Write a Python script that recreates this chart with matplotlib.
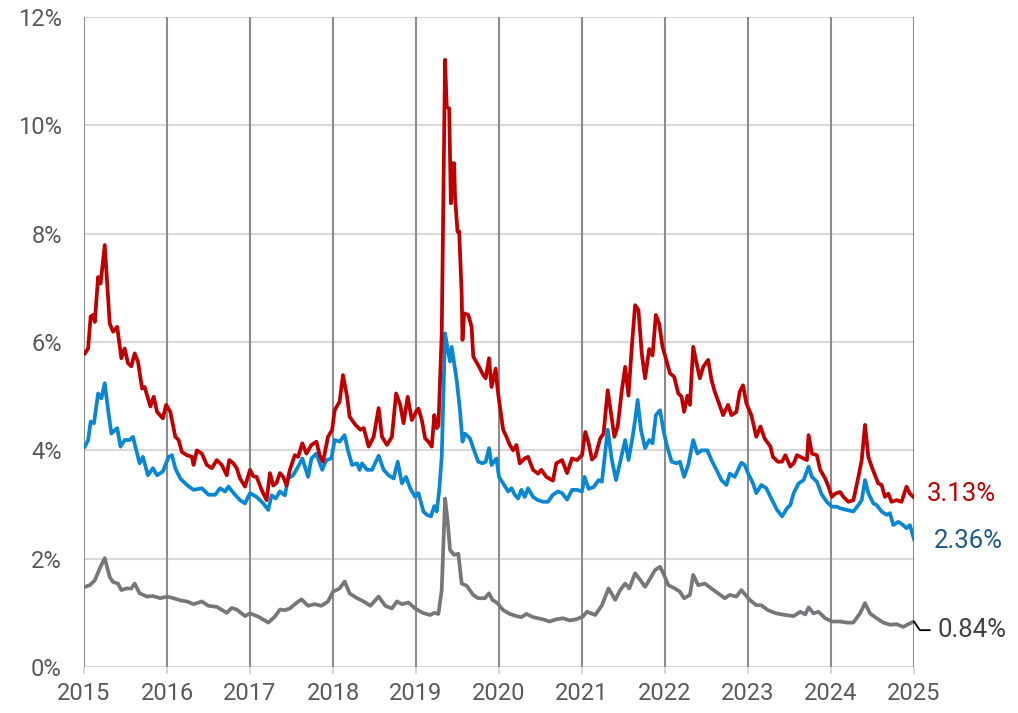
import matplotlib.pyplot as plt
import numpy as np

# readings (decimal year, percent)
red_years = [
    2015.01, 2015.05, 2015.08, 2015.11, 2015.13, 2015.17, 2015.20, 2015.25, 2015.31, 2015.35,
    2015.40, 2015.45, 2015.49, 2015.53, 2015.57, 2015.61, 2015.65, 2015.70, 2015.73, 2015.80,
    2015.84, 2015.88, 2015.95, 2015.99, 2016.04, 2016.10, 2016.14, 2016.18, 2016.24, 2016.30,
    2016.32, 2016.36, 2016.42, 2016.48, 2016.54, 2016.60, 2016.66, 2016.72, 2016.75, 2016.80,
    2016.84, 2016.88, 2016.94, 2017.00, 2017.04, 2017.08, 2017.14, 2017.20, 2017.24, 2017.28,
    2017.32, 2017.36, 2017.40, 2017.44, 2017.48, 2017.54, 2017.58, 2017.63, 2017.68, 2017.74,
    2017.80, 2017.84, 2017.88, 2017.94, 2017.99, 2018.02, 2018.08, 2018.12, 2018.17, 2018.20,
    2018.27, 2018.33, 2018.37, 2018.43, 2018.49, 2018.55, 2018.59, 2018.65, 2018.71, 2018.76,
    2018.81, 2018.85, 2018.90, 2018.95, 2019.01, 2019.03, 2019.07, 2019.11, 2019.15, 2019.19,
    2019.22, 2019.25, 2019.27, 2019.31, 2019.35, 2019.37, 2019.40, 2019.42, 2019.44, 2019.46,
    2019.47, 2019.50, 2019.52, 2019.55, 2019.56, 2019.58, 2019.63, 2019.67, 2019.69, 2019.75,
    2019.81, 2019.84, 2019.88, 2019.91, 2019.96, 2019.98, 2020.00, 2020.05, 2020.09, 2020.13,
    2020.17, 2020.21, 2020.25, 2020.31, 2020.35, 2020.41, 2020.47, 2020.51, 2020.57, 2020.65,
    2020.69, 2020.76, 2020.82, 2020.88, 2020.94, 2021.00, 2021.04, 2021.08, 2021.12, 2021.16,
    2021.22, 2021.26, 2021.31, 2021.35, 2021.39, 2021.43, 2021.48, 2021.52, 2021.56, 2021.60,
    2021.64, 2021.68, 2021.72, 2021.76, 2021.81, 2021.85, 2021.89, 2021.93, 2021.97, 2022.01,
    2022.06, 2022.11, 2022.16, 2022.20, 2022.23, 2022.27, 2022.30, 2022.34, 2022.38, 2022.42,
    2022.46, 2022.52, 2022.56, 2022.60, 2022.65, 2022.70, 2022.76, 2022.80, 2022.86, 2022.90,
    2022.94, 2022.98, 2023.04, 2023.10, 2023.15, 2023.20, 2023.27, 2023.30, 2023.36, 2023.41,
    2023.45, 2023.51, 2023.55, 2023.59, 2023.67, 2023.71, 2023.73, 2023.77, 2023.83, 2023.87,
    2023.93, 2023.97, 2024.01, 2024.05, 2024.11, 2024.15, 2024.21, 2024.27, 2024.33, 2024.37,
    2024.41, 2024.45, 2024.49, 2024.53, 2024.57, 2024.61, 2024.65, 2024.69, 2024.73, 2024.79,
    2024.85, 2024.91, 2024.95, 2025.00,
]
red_vals = [
    5.79, 5.88, 6.47, 6.50, 6.37, 7.20, 7.08, 7.79, 6.34, 6.19,
    6.28, 5.70, 5.88, 5.61, 5.55, 5.79, 5.64, 5.14, 5.17, 4.81,
    4.99, 4.71, 4.59, 4.84, 4.71, 4.25, 4.19, 3.97, 3.91, 3.88,
    3.73, 4.00, 3.94, 3.73, 3.67, 3.82, 3.73, 3.54, 3.82, 3.76,
    3.67, 3.48, 3.33, 3.64, 3.52, 3.51, 3.27, 3.08, 3.58, 3.35,
    3.40, 3.58, 3.51, 3.35, 3.64, 3.91, 3.88, 4.13, 3.94, 4.10,
    4.16, 3.91, 3.79, 4.25, 4.38, 4.74, 4.90, 5.39, 4.99, 4.62,
    4.47, 4.38, 4.41, 4.07, 4.25, 4.78, 4.25, 4.10, 4.25, 5.05,
    4.84, 4.50, 4.99, 4.56, 4.74, 4.77, 4.56, 4.22, 4.16, 4.07,
    4.65, 4.41, 4.45, 6.16, 11.21, 10.34, 10.31, 8.56, 9.30, 9.30,
    8.68, 8.04, 8.04, 6.90, 6.04, 6.53, 6.50, 6.28, 5.73, 5.57,
    5.39, 5.33, 5.70, 5.17, 5.51, 5.17, 4.93, 4.38, 4.25, 4.10,
    4.00, 4.10, 3.76, 3.85, 3.88, 3.64, 3.57, 3.64, 3.51, 3.44,
    3.76, 3.82, 3.58, 3.85, 3.82, 3.91, 4.34, 4.13, 3.83, 3.89,
    4.22, 4.31, 5.11, 4.68, 4.25, 4.44, 5.11, 5.54, 5.01, 5.91,
    6.68, 6.59, 5.79, 5.33, 5.87, 5.75, 6.50, 6.34, 5.91, 5.70,
    5.42, 5.36, 5.05, 4.99, 4.71, 5.01, 4.84, 5.91, 5.61, 5.33,
    5.54, 5.67, 5.30, 5.08, 4.87, 4.65, 4.84, 4.65, 4.71, 5.08,
    5.20, 4.87, 4.65, 4.25, 4.44, 4.22, 4.07, 3.88, 3.79, 3.79,
    3.91, 3.70, 3.76, 3.91, 3.85, 3.82, 4.28, 3.94, 3.91, 3.64,
    3.48, 3.33, 3.14, 3.20, 3.23, 3.14, 3.05, 3.08, 3.51, 3.82,
    4.47, 3.88, 3.70, 3.54, 3.39, 3.36, 3.14, 3.20, 3.05, 3.08,
    3.05, 3.33, 3.20, 3.13,
]

blue_years = [
    2015.01, 2015.05, 2015.08, 2015.12, 2015.17, 2015.21, 2015.25, 2015.29, 2015.33, 2015.37,
    2015.40, 2015.44, 2015.49, 2015.55, 2015.59, 2015.63, 2015.67, 2015.71, 2015.77, 2015.83,
    2015.88, 2015.95, 2016.02, 2016.06, 2016.10, 2016.16, 2016.24, 2016.32, 2016.42, 2016.50,
    2016.58, 2016.64, 2016.70, 2016.74, 2016.82, 2016.88, 2016.94, 2017.00, 2017.08, 2017.16,
    2017.22, 2017.26, 2017.31, 2017.36, 2017.42, 2017.46, 2017.52, 2017.58, 2017.63, 2017.70,
    2017.74, 2017.80, 2017.87, 2017.92, 2017.98, 2018.02, 2018.08, 2018.14, 2018.18, 2018.23,
    2018.29, 2018.32, 2018.35, 2018.41, 2018.47, 2018.55, 2018.61, 2018.67, 2018.73, 2018.78,
    2018.83, 2018.88, 2018.93, 2018.99, 2019.03, 2019.09, 2019.13, 2019.18, 2019.22, 2019.25,
    2019.28, 2019.31, 2019.33, 2019.35, 2019.38, 2019.41, 2019.43, 2019.46, 2019.49, 2019.53,
    2019.56, 2019.59, 2019.65, 2019.69, 2019.75, 2019.80, 2019.84, 2019.88, 2019.91, 2019.97,
    2020.00, 2020.05, 2020.11, 2020.15, 2020.19, 2020.23, 2020.27, 2020.31, 2020.35, 2020.41,
    2020.47, 2020.53, 2020.59, 2020.65, 2020.71, 2020.76, 2020.82, 2020.88, 2020.94, 2021.00,
    2021.03, 2021.08, 2021.14, 2021.20, 2021.24, 2021.31, 2021.36, 2021.41, 2021.46, 2021.52,
    2021.56, 2021.61, 2021.64, 2021.67, 2021.71, 2021.76, 2021.81, 2021.85, 2021.89, 2021.94,
    2021.98, 2022.02, 2022.08, 2022.14, 2022.18, 2022.23, 2022.28, 2022.34, 2022.39, 2022.44,
    2022.51, 2022.56, 2022.62, 2022.68, 2022.74, 2022.78, 2022.84, 2022.92, 2022.96, 2023.00,
    2023.06, 2023.10, 2023.16, 2023.22, 2023.29, 2023.35, 2023.41, 2023.47, 2023.51, 2023.55,
    2023.61, 2023.67, 2023.73, 2023.77, 2023.83, 2023.89, 2023.95, 2024.01, 2024.07, 2024.11,
    2024.19, 2024.27, 2024.33, 2024.37, 2024.41, 2024.45, 2024.51, 2024.55, 2024.61, 2024.67,
    2024.71, 2024.75, 2024.81, 2024.87, 2024.91, 2024.95, 2025.00,
]
blue_vals = [
    4.07, 4.19, 4.53, 4.50, 5.05, 4.96, 5.24, 4.75, 4.31, 4.37,
    4.41, 4.07, 4.19, 4.19, 4.25, 4.00, 3.76, 3.88, 3.54, 3.67,
    3.54, 3.61, 3.88, 3.91, 3.67, 3.48, 3.36, 3.27, 3.30, 3.18,
    3.18, 3.30, 3.24, 3.33, 3.18, 3.08, 3.02, 3.21, 3.14, 3.02,
    2.90, 3.17, 3.11, 3.24, 3.17, 3.48, 3.54, 3.70, 3.85, 3.51,
    3.85, 3.94, 3.64, 3.82, 3.85, 4.19, 4.16, 4.28, 4.00, 3.73,
    3.76, 3.64, 3.76, 3.64, 3.64, 3.90, 3.64, 3.54, 3.48, 3.79,
    3.39, 3.51, 3.30, 3.14, 3.21, 2.87, 2.81, 2.78, 2.97, 2.87,
    3.27, 3.88, 4.99, 6.16, 5.88, 5.64, 5.91, 5.61, 5.30, 4.74,
    4.16, 4.31, 4.22, 4.04, 3.79, 3.76, 3.79, 4.04, 3.73, 3.85,
    3.51, 3.39, 3.24, 3.30, 3.18, 3.11, 3.27, 3.14, 3.30, 3.14,
    3.08, 3.05, 3.05, 3.18, 3.24, 3.21, 3.09, 3.27, 3.27, 3.24,
    3.51, 3.29, 3.32, 3.45, 3.42, 4.38, 3.82, 3.45, 3.79, 4.19,
    3.82, 4.25, 4.56, 4.93, 4.38, 4.04, 4.19, 4.13, 4.65, 4.74,
    4.38, 4.10, 3.79, 3.76, 3.79, 3.51, 3.73, 4.19, 3.94, 4.00,
    4.00, 3.82, 3.64, 3.45, 3.36, 3.57, 3.51, 3.77, 3.73, 3.58,
    3.39, 3.21, 3.36, 3.30, 3.08, 2.90, 2.78, 2.93, 2.99, 3.21,
    3.39, 3.45, 3.70, 3.51, 3.42, 3.18, 3.05, 2.96, 2.96, 2.93,
    2.90, 2.87, 2.99, 3.08, 3.45, 3.21, 3.02, 2.99, 2.87, 2.81,
    2.84, 2.62, 2.68, 2.62, 2.56, 2.62, 2.36,
]

gray_years = [
    2015.01, 2015.07, 2015.13, 2015.19, 2015.25, 2015.31, 2015.35, 2015.41, 2015.45, 2015.51,
    2015.57, 2015.61, 2015.67, 2015.76, 2015.83, 2015.92, 2016.00, 2016.08, 2016.16, 2016.24,
    2016.32, 2016.42, 2016.50, 2016.60, 2016.72, 2016.78, 2016.84, 2016.94, 2017.00, 2017.10,
    2017.22, 2017.30, 2017.36, 2017.42, 2017.48, 2017.54, 2017.62, 2017.70, 2017.78, 2017.86,
    2017.94, 2018.00, 2018.08, 2018.14, 2018.20, 2018.29, 2018.37, 2018.45, 2018.55, 2018.63,
    2018.71, 2018.77, 2018.83, 2018.91, 2018.99, 2019.08, 2019.17, 2019.22, 2019.27, 2019.31,
    2019.35, 2019.38, 2019.41, 2019.46, 2019.51, 2019.55, 2019.61, 2019.69, 2019.75, 2019.83,
    2019.88, 2019.92, 2019.98, 2020.05, 2020.13, 2020.21, 2020.27, 2020.33, 2020.41, 2020.53,
    2020.61, 2020.69, 2020.77, 2020.85, 2020.93, 2021.01, 2021.06, 2021.16, 2021.24, 2021.32,
    2021.40, 2021.46, 2021.52, 2021.57, 2021.64, 2021.70, 2021.76, 2021.82, 2021.88, 2021.94,
    2021.98, 2022.04, 2022.12, 2022.18, 2022.23, 2022.30, 2022.34, 2022.40, 2022.48, 2022.56,
    2022.64, 2022.72, 2022.78, 2022.86, 2022.92, 2023.02, 2023.10, 2023.16, 2023.24, 2023.34,
    2023.45, 2023.55, 2023.63, 2023.69, 2023.73, 2023.79, 2023.85, 2023.93, 2024.01, 2024.11,
    2024.19, 2024.27, 2024.35, 2024.41, 2024.47, 2024.55, 2024.63, 2024.71, 2024.79, 2024.87,
    2024.93, 2025.00,
]
gray_vals = [
    1.48, 1.51, 1.60, 1.82, 2.01, 1.66, 1.57, 1.54, 1.42, 1.45,
    1.45, 1.54, 1.36, 1.30, 1.31, 1.27, 1.30, 1.27, 1.23, 1.21,
    1.16, 1.21, 1.13, 1.11, 1.00, 1.09, 1.06, 0.94, 0.99, 0.93,
    0.82, 0.93, 1.06, 1.05, 1.08, 1.16, 1.25, 1.13, 1.16, 1.13,
    1.21, 1.39, 1.45, 1.58, 1.36, 1.27, 1.21, 1.13, 1.30, 1.13,
    1.08, 1.21, 1.16, 1.19, 1.08, 1.00, 0.96, 1.00, 0.98, 1.42,
    3.11, 2.71, 2.16, 2.07, 2.09, 1.54, 1.50, 1.33, 1.27, 1.27,
    1.36, 1.24, 1.18, 1.05, 0.98, 0.94, 0.92, 0.98, 0.92, 0.88,
    0.84, 0.88, 0.90, 0.86, 0.88, 0.93, 1.02, 0.96, 1.14, 1.45,
    1.24, 1.42, 1.54, 1.45, 1.73, 1.61, 1.48, 1.63, 1.79, 1.85,
    1.73, 1.51, 1.45, 1.39, 1.27, 1.33, 1.70, 1.51, 1.54, 1.45,
    1.36, 1.27, 1.33, 1.30, 1.42, 1.24, 1.14, 1.14, 1.05, 0.99,
    0.96, 0.94, 1.02, 0.97, 1.10, 0.99, 1.02, 0.90, 0.84, 0.84,
    0.82, 0.82, 0.99, 1.18, 0.99, 0.90, 0.82, 0.78, 0.79, 0.74,
    0.79, 0.84,
]

years = list(range(2015, 2026))
y_ticks = [0, 2, 4, 6, 8, 10, 12]

RED = '#C00000'
BLUE = '#0a87d2'
GRAY = '#76777a'
TEXT = '#595959'

plt.rcParams['font.family'] = ['Roboto', 'DejaVu Sans']

fig = plt.figure(figsize=(10.18, 7.13), dpi=100)
ax = fig.add_axes([84 / 1018, 1 - 667 / 713, 830 / 1018, 650 / 713])

ax.set_xlim(2015, 2025)
ax.set_ylim(0, 12)

# grid
for yv in y_ticks:
    ax.axhline(yv, color='#d9d9d9', linewidth=1.5, zorder=1)
for yr in years:
    ax.axvline(yr, color='#8c8c8c', linewidth=1.5, zorder=1)

ax.plot(gray_years, gray_vals, color=GRAY, linewidth=2.7, zorder=3)
ax.plot(blue_years, blue_vals, color=BLUE, linewidth=2.7, zorder=4)
ax.plot(red_years, red_vals, color=RED, linewidth=2.7, zorder=5)

for s in ax.spines.values():
    s.set_visible(False)

ax.set_xticks(years)
ax.set_xticklabels([str(y) for y in years])
ax.set_yticks(y_ticks)
ax.set_yticklabels(['%d%%' % v for v in y_ticks])
ax.tick_params(axis='x', length=5, width=1.5, color='#d9d9d9', pad=6,
               labelsize=17, labelcolor=TEXT)
ax.tick_params(axis='y', length=0, pad=16, labelsize=17, labelcolor=TEXT)

# end labels
ax.annotate('%.2f%%' % red_vals[-1], xy=(red_years[-1], red_vals[-1]),
            xytext=(13, 3), textcoords='offset pixels', va='center', ha='left',
            fontsize=18.5, color=RED, annotation_clip=False)
ax.annotate('%.2f%%' % blue_vals[-1], xy=(blue_years[-1], blue_vals[-1]),
            xytext=(20, -2), textcoords='offset pixels', va='center', ha='left',
            fontsize=18.5, color='#1d5a86', annotation_clip=False)

# leader line for the gray series
gx, gy = gray_years[-1], gray_vals[-1]
ax.plot([gx, gx + 0.07, gx + 0.19], [gy, gy - 0.16, gy - 0.16], color='black',
        linewidth=1.3, clip_on=False, zorder=6)
ax.annotate('%.2f%%' % gy, xy=(gx + 0.19, gy - 0.16),
            xytext=(8, 0), textcoords='offset pixels', va='center', ha='left',
            fontsize=18.5, color='#404040', annotation_clip=False)

fig.savefig('out.png', dpi=100)
